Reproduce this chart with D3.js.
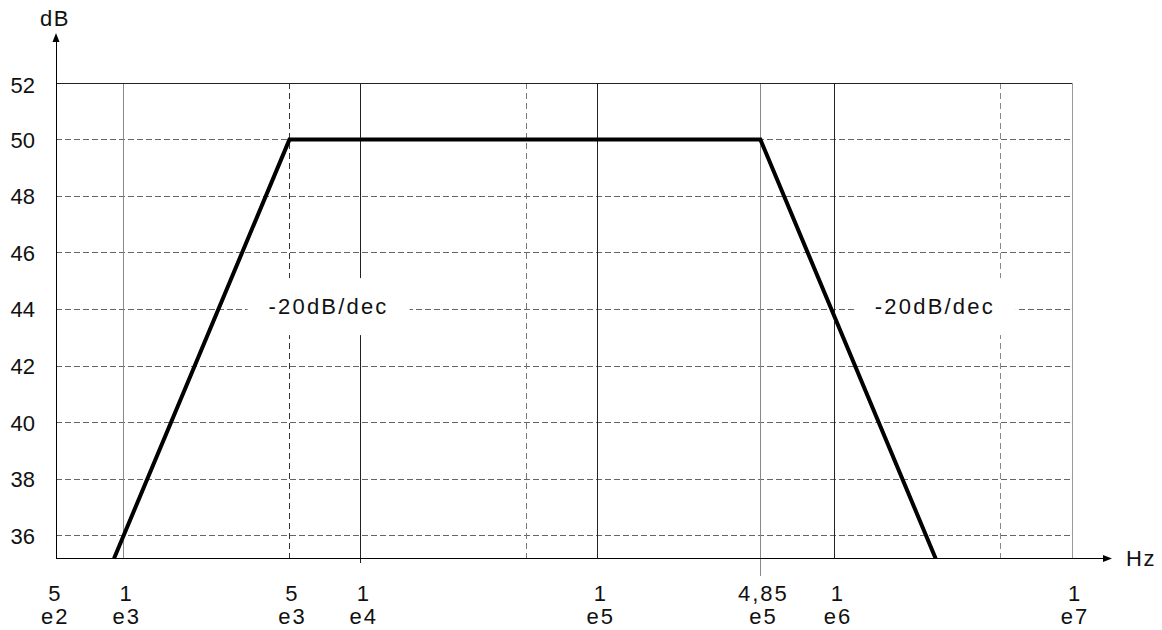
<!DOCTYPE html>
<html>
<head>
<meta charset="utf-8">
<script src="https://cdn.jsdelivr.net/npm/d3@7"></script>
<style>
  html, body { margin: 0; padding: 0; background: #fff; }
  svg { display: block; font-family: "Liberation Sans", Arial, sans-serif; }
</style>
</head>
<body>
<svg id="chart" width="1162" height="630"></svg>
<script>
// ---- data ----
const freqTicks = [5e2, 1e3, 5e3, 1e4, 1e5, 4.85e5, 1e6, 1e7];
const tickMantissa = ["5", "1", "5", "1", "1", "4,85", "1", "1"];
const tickExponent = ["e2", "e3", "e3", "e4", "e5", "e5", "e6", "e7"];
const majorFreqs = [1e3, 1e4, 1e5, 1e6];
const minorFreqs = [5e3, 5e4, 5e6];
const markerFreqs = [4.85e5];
const dbTicks = [36, 38, 40, 42, 44, 46, 48, 50, 52];
const responseFreq = [910, 5000, 485000, 2.66e6];
const responseDb = [35.2, 50, 50, 35.2];
const annotationText = ["-20dB/dec", "-20dB/dec"];
const annotationFreq = [7.31e3, 2.64e6];
const annotationDb = [44.1, 44.1];

// ---- layout ----
const pLeft = 56, pRight = 1072, pTop = 83, pBottom = 558.5;
const svg = d3.select("#chart");
const x = d3.scaleLog().domain([518, 1e7]).range([pLeft, pRight]);
const y = d3.scaleLinear().domain([35.2, 52]).range([pBottom, pTop]);

const g = svg.append("g").attr("shape-rendering", "crispEdges");

// horizontal dashed grid
g.selectAll("line.hgrid").data(dbTicks.filter(d => d < 52)).join("line")
  .attr("x1", pLeft).attr("x2", pRight)
  .attr("y1", d => y(d)).attr("y2", d => y(d))
  .attr("stroke", "#666").attr("stroke-width", 1).attr("stroke-dasharray", "6,3");

// vertical minor dashed
const minorColor = {5000: "#333", 50000: "#777", 5000000: "#888"};
g.selectAll("line.vminor").data(minorFreqs).join("line")
  .attr("x1", d => x(d)).attr("x2", d => x(d))
  .attr("y1", pTop).attr("y2", d => d === 5e4 ? pBottom : pBottom + 4)
  .attr("stroke", d => minorColor[d]).attr("stroke-width", 1).attr("stroke-dasharray", "6,4");

// vertical major solid
g.selectAll("line.vmajor").data(majorFreqs).join("line")
  .attr("x1", d => x(d)).attr("x2", d => x(d))
  .attr("y1", pTop).attr("y2", d => d === 1e4 ? pBottom + 4 : pBottom)
  .attr("stroke", d => d === 1e3 ? "#888" : "#222").attr("stroke-width", 1);

// marker line
g.selectAll("line.vmarker").data(markerFreqs).join("line")
  .attr("x1", d => x(d)).attr("x2", d => x(d))
  .attr("y1", pTop).attr("y2", pBottom + 17)
  .attr("stroke", "#888").attr("stroke-width", 1);

// top and right borders
g.append("line").attr("x1", pLeft).attr("x2", pRight).attr("y1", pTop).attr("y2", pTop)
  .attr("stroke", "#222");
g.append("line").attr("x1", pRight).attr("x2", pRight).attr("y1", pTop).attr("y2", pBottom)
  .attr("stroke", "#999");

// annotation boxes (white, hide grid)
const boxW = 162, boxH = 57;
svg.selectAll("rect.ann").data(annotationText).join("rect")
  .attr("x", (d, i) => x(annotationFreq[i]) - boxW / 2)
  .attr("y", (d, i) => y(annotationDb[i]) - boxH / 2)
  .attr("width", boxW).attr("height", boxH)
  .attr("fill", "#fff");

// axes
const ax = svg.append("g").attr("shape-rendering", "crispEdges");
ax.append("line").attr("x1", pLeft).attr("x2", pLeft).attr("y1", pBottom).attr("y2", 40)
  .attr("stroke", "#000");
ax.append("line").attr("x1", pLeft).attr("x2", 1104).attr("y1", pBottom).attr("y2", pBottom)
  .attr("stroke", "#000");
svg.append("path").attr("d", `M${pLeft},33 L${pLeft - 3.5},42 L${pLeft + 3.5},42 Z`).attr("fill", "#000");
svg.append("path").attr("d", `M1112,${pBottom} L1103,${pBottom - 3.5} L1103,${pBottom + 3.5} Z`).attr("fill", "#000");

// response line
const line = d3.line().x(d => x(d[0])).y(d => y(d[1]));
svg.append("path")
  .datum(responseFreq.map((f, i) => [f, responseDb[i]]))
  .attr("d", line)
  .attr("fill", "none").attr("stroke", "#000").attr("stroke-width", 4)
  .attr("stroke-linejoin", "miter");

// annotation text
svg.selectAll("text.ann").data(annotationText).join("text")
  .attr("x", (d, i) => x(annotationFreq[i]) + 0)
  .attr("y", (d, i) => y(annotationDb[i]) + 7)
  .attr("text-anchor", "middle")
  .attr("font-size", 22).attr("letter-spacing", 2.2)
  .attr("fill", "#111")
  .text(d => d);

// y tick labels
svg.selectAll("text.ytick").data(dbTicks).join("text")
  .attr("x", 35).attr("y", d => y(d) + 8 + (d === 52 ? 2 : 0))
  .attr("text-anchor", "end")
  .attr("font-size", 22)
  .attr("fill", "#111")
  .text(d => d);

// x tick labels (two lines)
const xl = svg.selectAll("text.xtick").data(freqTicks).join("text")
  .attr("text-anchor", "middle")
  .attr("font-size", 22).attr("letter-spacing", 2)
  .attr("fill", "#111");
xl.append("tspan").attr("x", d => x(d) + 3).attr("y", 601).text((d, i) => tickMantissa[i]);
xl.append("tspan").attr("x", d => x(d) + 3).attr("y", 624).text((d, i) => tickExponent[i]);

// axis titles
svg.append("text").attr("x", 40).attr("y", 26).attr("font-size", 22)
  .attr("letter-spacing", 1.5).attr("fill", "#111").text("dB");
svg.append("text").attr("x", 1126).attr("y", 566).attr("font-size", 22)
  .attr("letter-spacing", 1.5).attr("fill", "#111").text("Hz");
</script>
</body>
</html>
